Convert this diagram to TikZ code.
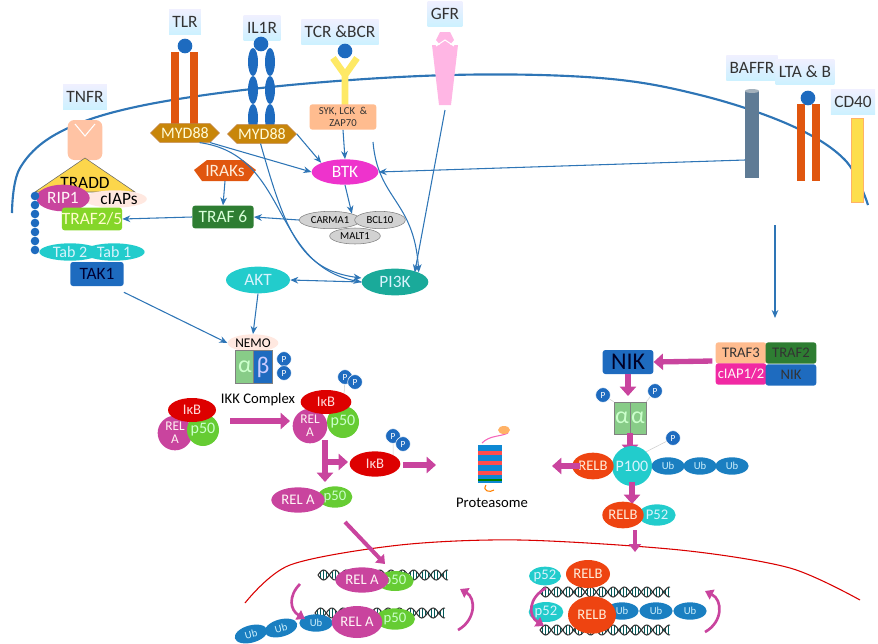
\documentclass[tikz,border=0pt]{standalone}
\usepackage{fontspec}
\setmainfont{Carlito}
\usetikzlibrary{arrows.meta,shapes.geometric,shapes.symbols,shadings}
\definecolor{bl}{HTML}{2E75B6}
\definecolor{mg}{HTML}{C9449E}
\definecolor{pk}{HTML}{EE33CC}
\definecolor{org}{HTML}{E0560F}
\definecolor{gold}{HTML}{C8860A}
\definecolor{cy}{HTML}{22CCCC}
\definecolor{tl}{HTML}{1AAA9A}
\definecolor{dbl}{HTML}{1E6BBF}
\definecolor{ub}{HTML}{1A7FC1}
\definecolor{gr}{HTML}{2E7D32}
\definecolor{lg}{HTML}{66CC33}
\definecolor{rd}{HTML}{DD0000}
\definecolor{rb}{HTML}{EE4411}
\definecolor{ag}{HTML}{88CC88}
\begin{document}
\begin{tikzpicture}[x=0.75pt,y=-0.75pt,
 lbl/.style={rectangle,top color=blue!6,bottom color=blue!28!cyan!20,inner sep=2.5pt,minimum height=19pt,font=\fontsize{13}{14}\selectfont,text=black!80},
 el/.style={ellipse,inner sep=0pt,font=\fontsize{11}{12}\selectfont},
 bx/.style={rectangle,rounded corners=2pt,inner sep=0pt,font=\fontsize{13}{14}\selectfont},
 ba/.style={bl,thick,-{Stealth[length=6pt,width=5pt]}},
 ma/.style={mg,line width=4pt,-{Triangle[length=7pt,width=12pt]}},
 pp/.style={circle,fill=dbl,draw=white,inner sep=0pt,minimum size=11pt,text=white,font=\fontsize{7}{7}\selectfont},
 ubn/.style={el,fill=ub,minimum width=25pt,minimum height=13pt,text=white!80!cyan,font=\fontsize{8}{8}\selectfont},
 gk/.style={rectangle,draw=gray,inner sep=0,text=white!80!green,font=\fontsize{18}{18}\selectfont},
 pics/dna/.style={code={
   \foreach \t in {2,5,...,128}{\draw[teal!70!black,line width=0.5pt] (\t,{5*sin(\t*16)})--(\t,{-5*sin(\t*16)});}
   \draw[black!80,thick] plot[domain=0:130,samples=90,smooth] (\x,{5*sin(\x*16)});
   \draw[black!80,thick] plot[domain=0:130,samples=90,smooth] (\x,{-5*sin(\x*16)});}}
]
\useasboundingbox (0,0) rectangle (878,643);
% membrane
\draw[bl,line width=1.6pt] plot[smooth,tension=0.6] coordinates {(12,213)(20,168)(60,132)(140,106)(280,86)(450,75)(600,78)(700,95)(790,125)(845,160)(868,205)};
% nucleus arc
\draw[red!85!black,thick] plot[smooth] coordinates {(245,603)(290,565)(400,545)(520,540)(680,550)(790,568)(860,600)};
% receptors
\node[lbl] (tlrl) at (185,22) {TLR};
\fill[org] (171,52) rectangle (179,128); \fill[org] (190,52) rectangle (198,128);
\node[circle,fill=dbl,minimum size=11pt,inner sep=0] (tlrc) at (185,46) {};
\node[lbl] (il1l) at (262,28) {IL1R};
\foreach \yy in {62,90,118}{\fill[dbl] (253,\yy) ellipse (5 and 14); \fill[dbl] (270,\yy) ellipse (5 and 14);}
\node[circle,fill=dbl,minimum size=11pt,inner sep=0] (il1c) at (261,44) {};
\node[lbl] (tcrl) at (340,32) {TCR \&BCR};
\draw[yellow!80!orange!60,line width=5pt] (345,107)--(345,75) (333,58)--(345,75)--(357,58);
\node[circle,fill=dbl,minimum size=11pt,inner sep=0] (tcrc) at (345,51) {};
\node[lbl] (gfrl) at (445,14) {GFR};
\fill[pink!70!magenta!60] (432,45)--(458,45)--(451,105)--(439,105)--cycle;
\fill[pink!70!magenta!60] (440,32)--(450,32)--(454,40)--(449,46)--(441,46)--(436,40)--cycle;
\draw[white,thick] (436,46)--(445,40)--(454,46);
\node[lbl] (tnfl) at (85,97) {TNFR};
\node[rectangle,rounded corners=5pt,fill=orange!35!pink!70,minimum width=26pt,minimum height=30pt] (tnfr) at (85,140) {};
\draw[white,thick] (75,124)--(85,136)--(95,124);
\node[lbl] (bafl) at (752,68) {BAFFR};
\fill[bl!40!gray] (745,91) rectangle (759,178); \fill[bl!30!gray!60] (752,91) ellipse (7 and 2);
\node[lbl] (ltal) at (805,72) {LTA \& B};
\fill[org] (797,104) rectangle (805,181); \fill[org] (812,104) rectangle (820,181);
\node[circle,fill=dbl,minimum size=11pt,inner sep=0] (ltac) at (808,98) {};
\node[lbl] (cd4l) at (853,102) {CD40};
\fill[yellow!70!orange!70,draw=orange!60] (851,118) rectangle (863,202);
% TNFR complex
\fill[yellow!60!orange!70,draw=black!60] (85,158)--(135,192)--(35,192)--cycle;
\node[font=\fontsize{13}{14}\selectfont] (tradd) at (85,183) {TRADD};
\node[el,fill=orange!20!pink!30,minimum width=38pt,minimum height=13pt,font=\fontsize{13}{14}\selectfont] (ciap) at (115,199) {\ \ cIAPs};
\node[el,fill=mg,text=white!85!pink,minimum width=40pt,minimum height=20pt,font=\fontsize{13}{14}\selectfont] (rip) at (63,198) {RIP1};
\node[bx,fill=lg!80!yellow,text=white!80!yellow,minimum width=45pt,minimum height=17pt] (traf25) at (92,219) {TRAF2/5};
\foreach \yy in {196,205,214,223,232,241,250}{\fill[dbl] (35,\yy) circle (4.3);}
\node[el,fill=cy,text=white!85!cyan,minimum width=46pt,minimum height=13pt,font=\fontsize{12}{13}\selectfont] (tab1) at (114,252) {Tab 1};
\node[el,fill=cy,text=white!85!cyan,minimum width=46pt,minimum height=13pt,font=\fontsize{12}{13}\selectfont] (tab2) at (70,252) {Tab 2};
\node[bx,fill=dbl,text=black!80!blue,minimum width=40pt,minimum height=18pt] (tak1) at (97,274) {TAK1};
% MYD88 etc
\node[signal,signal to=west and east,fill=gold,draw=brown,text=white!85!yellow,minimum width=50pt,minimum height=14pt,inner sep=1pt,font=\fontsize{12}{13}\selectfont] (myd1) at (185,133) {MYD88};
\node[signal,signal to=west and east,fill=gold,draw=brown,text=white!85!yellow,minimum width=50pt,minimum height=14pt,inner sep=1pt,font=\fontsize{12}{13}\selectfont] (myd2) at (262,134) {MYD88};
\node[bx,fill=orange!50!pink!70,minimum width=50pt,minimum height=19pt,align=center,font=\fontsize{8}{9}\selectfont,text=black!80] (syk) at (343,117) {SYK, LCK \ \&\\ZAP70};
\fill[org] (207,160)--(243,160)--(256,170)--(248,181)--(202,181)--(194,170)--cycle;
\node[font=\fontsize{13}{14}\selectfont,text=white!85!orange] (irak) at (225,171) {IRAKs};
\node[bx,fill=gr,text=white!85!green,minimum width=46pt,minimum height=17pt] (traf6) at (223,217) {TRAF 6};
\node[el,fill=pk,text=white,minimum width=50pt,minimum height=19pt,font=\fontsize{13}{14}\selectfont] (btk) at (345,172) {BTK};
\node[el,fill=gray!35,draw=gray,minimum width=46pt,minimum height=13pt,font=\fontsize{8}{9}\selectfont] (carma) at (330,220) {CARMA1};
\node[el,fill=gray!35,draw=gray,minimum width=38pt,minimum height=13pt,font=\fontsize{8}{9}\selectfont] (bcl) at (380,220) {BCL10};
\node[el,fill=gray!35,draw=gray,minimum width=38pt,minimum height=12pt,font=\fontsize{8}{9}\selectfont] (malt) at (355,236) {MALT1};
\node[el,fill=cy,text=white!85!cyan,minimum width=48pt,minimum height=20pt,font=\fontsize{13}{14}\selectfont] (akt) at (258,280) {AKT};
\node[el,fill=tl,text=white!85!cyan,minimum width=50pt,minimum height=20pt,font=\fontsize{13}{14}\selectfont] (pi3k) at (395,282) {PI3K};
% blue arrows
\draw[ba] (myd1.south east) -- (btk.west);
\draw[ba] (myd2.east) -- (btk.north west);
\draw[ba] ([xshift=-8pt]myd1.south east) .. controls (290,155) and (270,265) .. (pi3k.west);
\draw[ba] ([xshift=-20pt]myd2.south east) .. controls (285,230) and (300,270) .. ([yshift=3pt]pi3k.west);
\draw[ba] (irak) ++(0,10) -- (traf6.north);
\draw[ba] (syk.south) -- (btk.north);
\draw[ba] (btk.south) -- (carma.north east);
\draw[ba] (carma.west) -- (traf6.east);
\draw[ba] (traf6.west) -- (traf25.east);
\draw[ba] (373,142) .. controls (378,200) and (414,200) .. (pi3k.north east);
\coordinate (gfb) at (445,110);
\draw[ba] (gfb) -- ([xshift=-3pt]pi3k.north east);
\coordinate (bafb) at (745,160);
\draw[ba] (bafb) -- (btk.east);
\draw[ba] (pi3k.west) -- (akt.east);
% IKK
\node[el,fill=orange!20!pink!30,minimum width=38pt,minimum height=13pt,font=\fontsize{10}{11}\selectfont] (nemo) at (253,343) {NEMO};
\node[gk,fill=ag,minimum width=14pt,minimum height=25pt] (ika) at (245,367) {α};
\node[gk,fill=dbl,minimum width=14pt,minimum height=25pt,text=white!80!blue] (ikb) at (263,367) {β};
\node[pp] (p1) at (284,359) {P}; \node[pp] (p2) at (284,373) {P};
\node[font=\fontsize{11}{12}\selectfont] (ikkt) at (258,400) {IKK Complex};
\draw[ba] (akt.south) -- (nemo.north);
\draw[ba] (tak1.south east) ++(0,6) -- (nemo.west);
% IkB complexes
\node[circle,fill=mg,minimum size=26pt,inner sep=0,text=white!80!pink,align=center,font=\fontsize{10}{10}\selectfont] (rela1) at (175,433) {REL\\A};
\node[circle,fill=lg,minimum size=24pt,inner sep=0,text=white!80!green,font=\fontsize{12}{12}\selectfont] (p501) at (203,430) {p50};
\node[el,fill=rd,minimum width=36pt,minimum height=18pt,text=white!85!red] (ikb1) at (192,410) {IκB};
\draw[ma] (230,421) -- (290,421);
\node[circle,fill=mg,minimum size=26pt,inner sep=0,text=white!80!pink,align=center,font=\fontsize{10}{10}\selectfont] (rela2) at (310,426) {REL\\A};
\node[circle,fill=lg,minimum size=24pt,inner sep=0,text=white!80!green,font=\fontsize{12}{12}\selectfont] (p502) at (343,422) {p50};
\node[el,fill=rd,minimum width=38pt,minimum height=18pt,text=white!85!red] (ikb2) at (326,402) {IκB};
\node[pp] (p3) at (345,377) {P}; \node[pp] (p4) at (355,382) {P};
\draw[gray!40] (p3) -- (ikb2.north east);
\draw[mg,line width=4pt] (325,440)--(325,462);
\draw[ma] (325,458)--(325,482);
\draw[ma] (325,462)--(348,462);
\node[el,fill=rd,minimum width=38pt,minimum height=19pt,text=white!85!red] (ikb3) at (375,464) {IκB};
\node[pp] (p5) at (393,436) {P}; \node[pp] (p6) at (403,444) {P};
\draw[gray!40] (p5) -- (ikb3.north east);
\draw[ma] (403,465) -- (436,465);
% proteasome
\begin{scope}[shift={(490,463)}]
\fill[cyan!70!blue] (-12,-18) rectangle (12,20);
\foreach \yy in {-12,-2,8}{\fill[red!70] (-12,\yy) rectangle (12,\yy+4);}
\fill[green!50!black] (-12,16) rectangle (12,18);
\draw[magenta!60,thick] (-8,-20) .. controls (0,-28) and (10,-26) .. (18,-30);
\fill[orange!60] (14,-33) ellipse (6 and 4);
\draw[orange,thick] (-4,22) .. controls (-8,28) and (0,30) .. (4,27);
\end{scope}
\node[font=\fontsize{11}{12}\selectfont] (prot) at (492,503) {Proteasome};
\node[el,fill=lg,minimum width=26pt,minimum height=16pt,text=white!80!green] (p50f) at (335,497) {p50};
\node[el,fill=mg,minimum width=40pt,minimum height=19pt,text=white!85!pink] (relaf) at (298,500) {REL A\ };
\coordinate (nucA) at (345,522);
\draw[mg,line width=3pt,-{Triangle[length=6pt,width=9pt]}] (nucA) -- (385,564);
% left DNA
\pic at (318,575) {dna};
\pic at (315,613) {dna};
\node[el,fill=lg,minimum width=28pt,minimum height=15pt,text=white!80!green] (p50g) at (395,581) {p50};
\node[el,fill=mg,minimum width=40pt,minimum height=19pt,text=white!85!pink] (relag) at (362,580) {REL A};
\node[ubn,rotate=15] (u1) at (251,634) {Ub};
\node[ubn,rotate=15] (u2) at (281,628) {Ub};
\node[ubn] (u3) at (316,623) {Ub};
\node[el,fill=lg,minimum width=30pt,minimum height=16pt,text=white!80!green] (p50h) at (395,619) {p50};
\node[el,fill=mg,minimum width=38pt,minimum height=24pt,text=white!85!pink] (relah) at (357,622) {REL A};
\draw[mg,line width=2pt,-{Triangle[length=6pt,width=8pt]}] (300,584) .. controls (288,596) and (290,610) .. (305,619);
\draw[mg,line width=2pt,-{Triangle[length=6pt,width=8pt]}] (458,630) .. controls (476,620) and (476,598) .. (460,589);
% right side
\draw[ba] (775,225) -- (775,318);
\node[bx,fill=orange!50!pink!70,minimum width=38pt,minimum height=16pt,text=black!80,font=\fontsize{11}{12}\selectfont] (traf3) at (741,353) {TRAF3};
\node[bx,fill=gr,minimum width=38pt,minimum height=16pt,text=black!80,font=\fontsize{11}{12}\selectfont] (traf2) at (791,353) {TRAF2};
\node[bx,fill=pk!80!red,minimum width=38pt,minimum height=16pt,text=white!85!pink,font=\fontsize{11}{12}\selectfont] (ciap12) at (741,374) {cIAP1/2};
\node[bx,fill=dbl,minimum width=38pt,minimum height=16pt,text=black!80,font=\fontsize{11}{12}\selectfont] (nik2) at (791,375) {NIK};
\node[bx,fill=dbl,minimum width=38pt,minimum height=18pt,text=black!85!blue,font=\fontsize{18}{18}\selectfont] (nik) at (628,362) {NIK};
\draw[ma] (traf3.west) ++(-3,8) -- (nik.east);
\draw[ma] (nik.south) -- (628,396);
\node[gk,fill=ag,minimum width=12pt,minimum height=24pt] (aa1) at (622,418) {α};
\node[gk,fill=ag,minimum width=12pt,minimum height=24pt] (aa2) at (638,418) {α};
\node[pp] (p7) at (603,395) {P}; \node[pp] (p8) at (655,391) {P};
\draw[gray!40] (p7)--(aa1.north west) (p8)--(aa2.north east);
\draw[ma] (630,433) -- (630,454);
\node[ubn] (u4) at (668,466) {Ub};
\node[ubn] (u5) at (700,466) {Ub};
\node[ubn] (u6) at (732,466) {Ub};
\node[circle,fill=cy,minimum size=30pt,inner sep=0,text=white!85!cyan,font=\fontsize{12}{13}\selectfont] (p100) at (632,466) {P100};
\node[el,fill=rb,minimum width=31pt,minimum height=20pt,text=white!85!orange] (relb1) at (593,466) {RELB};
\node[pp] (p9) at (673,438) {P};
\draw[gray!40] (p9)--(p100.north east);
\draw[ma] (580,466) -- (552,466);
\draw[ma] (632,482) -- (632,504);
\node[el,fill=cy,minimum width=28pt,minimum height=16pt,text=white!85!cyan] (p52a) at (657,515) {P52};
\node[el,fill=rb,minimum width=31pt,minimum height=20pt,text=white!85!orange] (relb2) at (623,515) {RELB};
\coordinate (nucB) at (635,530);
\draw[mg,line width=3pt,-{Triangle[length=6pt,width=9pt]}] (nucB) -- (635,552);
% right DNA
\pic at (540,592) {dna};
\pic at (540,630) {dna};
\node[el,fill=cy,minimum width=24pt,minimum height=14pt,text=white!85!cyan] (p52b) at (545,576) {p52};
\node[el,fill=rb,minimum width=33pt,minimum height=21pt,text=white!85!orange] (relb3) at (588,574) {RELB};
\node[ubn] (u7) at (690,611) {Ub};
\node[ubn] (u8) at (656,611) {Ub};
\node[ubn] (u9) at (622,611) {Ub};
\node[el,fill=cy,minimum width=26pt,minimum height=15pt,text=white!85!cyan] (p52c) at (546,612) {p52};
\node[el,fill=rb,minimum width=36pt,minimum height=28pt,text=white!85!orange] (relb4) at (592,615) {RELB};
\draw[mg,line width=2pt,-{Triangle[length=6pt,width=8pt]}] (546,588) .. controls (528,598) and (528,616) .. (544,626);
\draw[mg,line width=2pt,-{Triangle[length=6pt,width=8pt]}] (705,632) .. controls (723,622) and (723,600) .. (705,591);
\end{tikzpicture}
\end{document}
